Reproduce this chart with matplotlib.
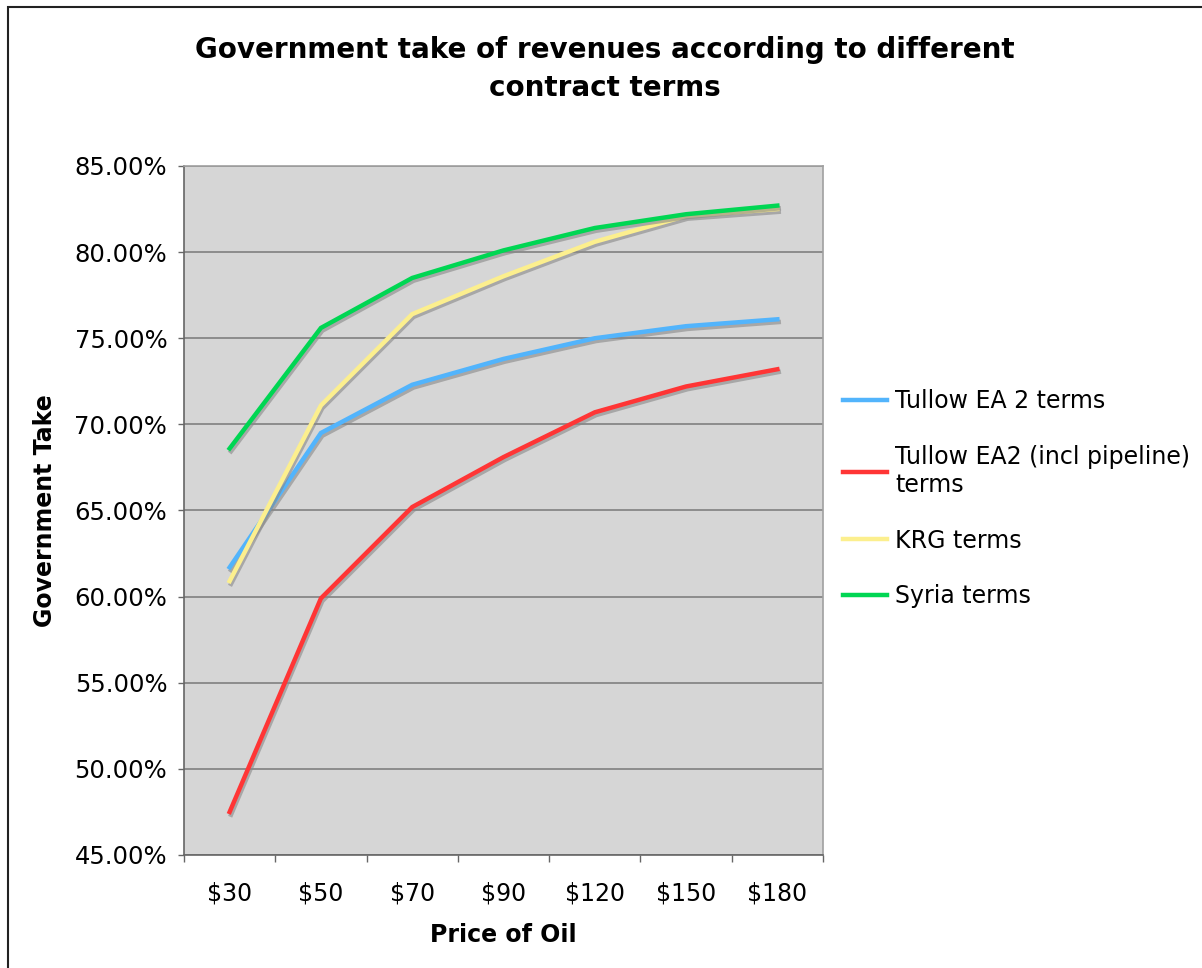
import numpy as np
import matplotlib.pyplot as plt
import matplotlib.patheffects as pe
from matplotlib.patches import Rectangle

# Data
prices = ["$30", "$50", "$70", "$90", "$120", "$150", "$180"]
tullow_ea2 = [61.7, 69.5, 72.3, 73.8, 75.0, 75.7, 76.1]
tullow_ea2_pipeline = [47.5, 59.9, 65.2, 68.1, 70.7, 72.2, 73.2]
krg = [60.9, 71.1, 76.4, 78.6, 80.6, 82.1, 82.5]
syria = [68.6, 75.6, 78.5, 80.1, 81.4, 82.2, 82.7]

series = [
    ("Tullow EA 2 terms", tullow_ea2, "#52b4fc"),
    ("Tullow EA2 (incl pipeline)\nterms", tullow_ea2_pipeline, "#ff3535"),
    ("KRG terms", krg, "#fcef8e"),
    ("Syria terms", syria, "#00d653"),
]

W, H = 1202, 968
fig = plt.figure(figsize=(W / 100, H / 100), dpi=100)
fig.patch.set_facecolor("white")

# outer chart frame (cut off at right/bottom like the reference)
fig.patches.append(Rectangle((8 / W, -0.05), 1.2, 1 - 7 / H + 0.05,
                             transform=fig.transFigure, fill=False,
                             edgecolor="#222222", linewidth=1.5))

ax = fig.add_axes([184 / W, 1 - 855 / H, (823 - 184) / W, (855 - 166) / H])
ax.set_facecolor("#d6d6d6")

x = np.arange(len(prices))
shadow = [pe.SimpleLineShadow(offset=(1, -2), shadow_color="#888888", alpha=0.6), pe.Normal()]
for label, vals, color in series:
    ax.plot(x, vals, color=color, linewidth=3.2, label=label,
            solid_joinstyle="miter", path_effects=shadow)

ax.set_xlim(-0.5, len(prices) - 0.5)
ax.set_ylim(45, 85)

yt = np.arange(45, 86, 5)
ax.set_yticks(yt)
ax.set_yticklabels([f"{v:.2f}%" for v in yt], fontsize=17.5)
ax.yaxis.grid(True, color="#808080", linewidth=1.2)
ax.set_axisbelow(True)

# Excel-style category axis: ticks between categories, labels centred
ax.set_xticks(x)
ax.set_xticklabels(prices, fontsize=17)
ax.set_xticks(np.arange(-0.5, len(prices), 1), minor=True)
ax.tick_params(axis="x", which="major", length=0, pad=19)
ax.tick_params(axis="x", which="minor", length=5, color="#666666", width=1)
ax.tick_params(axis="y", length=4, color="#666666", width=1, pad=8)

for s in ["left", "bottom"]:
    ax.spines[s].set_color("#666666")
    ax.spines[s].set_linewidth(1.2)
for s in ["top", "right"]:
    ax.spines[s].set_color("#a0a0a0")
    ax.spines[s].set_linewidth(1.2)

ax.set_xlabel("Price of Oil", fontsize=17, fontweight="bold")
ax.set_ylabel("Government Take", fontsize=17, fontweight="bold")
ax.xaxis.label.set_va("center")
ax.yaxis.label.set_va("center")
ax.xaxis.set_label_coords(0.5, -(935 - 855) / 689)
ax.yaxis.set_label_coords((45 - 184) / 639, 0.5)

fig.text(605 / W, 1 - 69 / H,
         "Government take of revenues according to different\ncontract terms",
         ha="center", va="center", fontsize=20, fontweight="bold",
         multialignment="center", linespacing=1.42)

leg = ax.legend(loc="upper left", bbox_to_anchor=(843 / W, 1 - 389 / H),
                bbox_transform=fig.transFigure, frameon=False, fontsize=17,
                handlelength=1.85, handletextpad=0.35, labelspacing=1.35,
                borderaxespad=0, borderpad=0)
for h in leg.legend_handles:
    h.set_linewidth(3.2)
    h.set_path_effects([])

fig.savefig("out.png", dpi=100)
